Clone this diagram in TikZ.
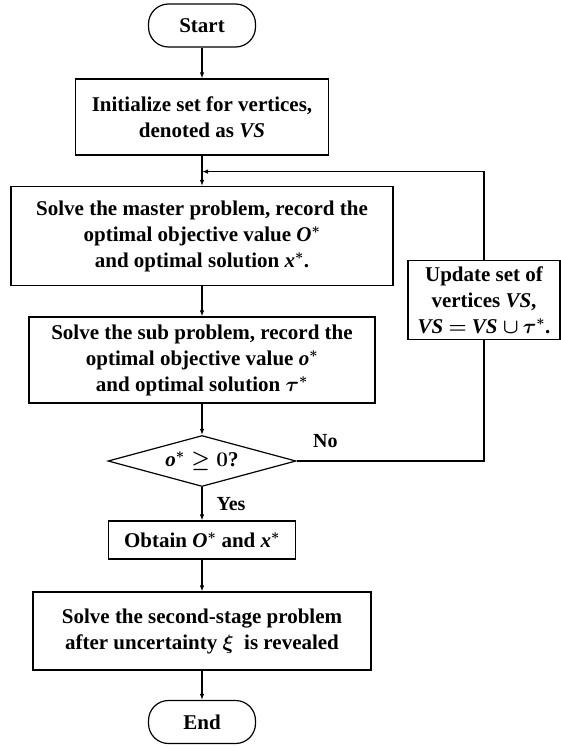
\documentclass[tikz,border=0pt]{standalone}
\usepackage{amsmath,amssymb}
\usepackage{fontspec}
\setmainfont{Liberation Serif}
\usetikzlibrary{positioning,arrows.meta,shapes.geometric}

\newcommand{\mv}[1]{\textit{#1}}

\tikzset{
  box/.style={draw, line width=1.2pt, align=center, inner sep=0pt,
    font=\fontsize{21}{26}\selectfont\bfseries\boldmath},
  terminal/.style={box, rounded corners=20pt, minimum width=107pt, minimum height=43pt},
  process/.style={box, rectangle},
  decision/.style={box, diamond, aspect=3.7, minimum width=188pt, minimum height=51pt},
  lbl/.style={font=\fontsize{20}{24}\selectfont\bfseries, inner sep=0pt},
  >={Latex[length=6pt,width=4.5pt]}
}

\begin{document}
\begin{tikzpicture}[on grid, line width=1.2pt]
   \useasboundingbox (0,0) rectangle (560pt,-747pt);
   \node[terminal] (start) at (202pt,-25.5pt) {Start};
   \node[process, minimum width=253pt, minimum height=76pt] (init) [below=91.5pt of start]
      {Initialize set for vertices,\\ denoted as \mv{VS}};
   \node[process, minimum width=382pt, minimum height=99pt] (master) [below=119pt of init]
      {Solve the master problem, record the\\ optimal objective value \mv{O}$^{*}$\\ and optimal solution \mv{x}$^{*}$.};
   \node[process, minimum width=346pt, minimum height=86pt] (sub) [below=124pt of master]
      {Solve the sub problem, record the\\ optimal objective value \mv{o}$^{*}$\\ and optimal solution $\tau^{*}$};
   \node[decision] (check) [below=101pt of sub] {\mv{o}$^{*}\geq 0$?};
   \node[process, minimum width=187pt, minimum height=38pt] (obtain) [below=79pt of check]
      {Obtain \mv{O}$^{*}$ and \mv{x}$^{*}$};
   \node[process, minimum width=338pt, minimum height=78pt] (second) [below=91pt of obtain]
      {Solve the second-stage problem\\ after uncertainty $\xi$\ \ is revealed};
   \node[terminal] (end) [below=91pt of second] {End};
   \node[process, minimum width=152pt, minimum height=79pt] (update) [below right=64pt and 282pt of master]
      {Update set of\\ vertices \mv{VS},\\ \mv{VS} $=$ \mv{VS} $\cup\,\tau^{*}$.};
   \coordinate[below=16pt of init.south] (merge);
   \node[lbl] (no) [above right=13pt and 16pt of check.east] {No};

    \path[->]
    (start) edge (init)
    (init) edge (master)
    (master) edge (sub)
    (sub) edge (check)
    (check) edge node[lbl, right=14pt] {Yes} (obtain)
    (obtain) edge (second)
    (second) edge (end);
    \draw (check.east) -| (update.south);
    \draw[->] (update.north) |- (merge);
\end{tikzpicture}
\end{document}
